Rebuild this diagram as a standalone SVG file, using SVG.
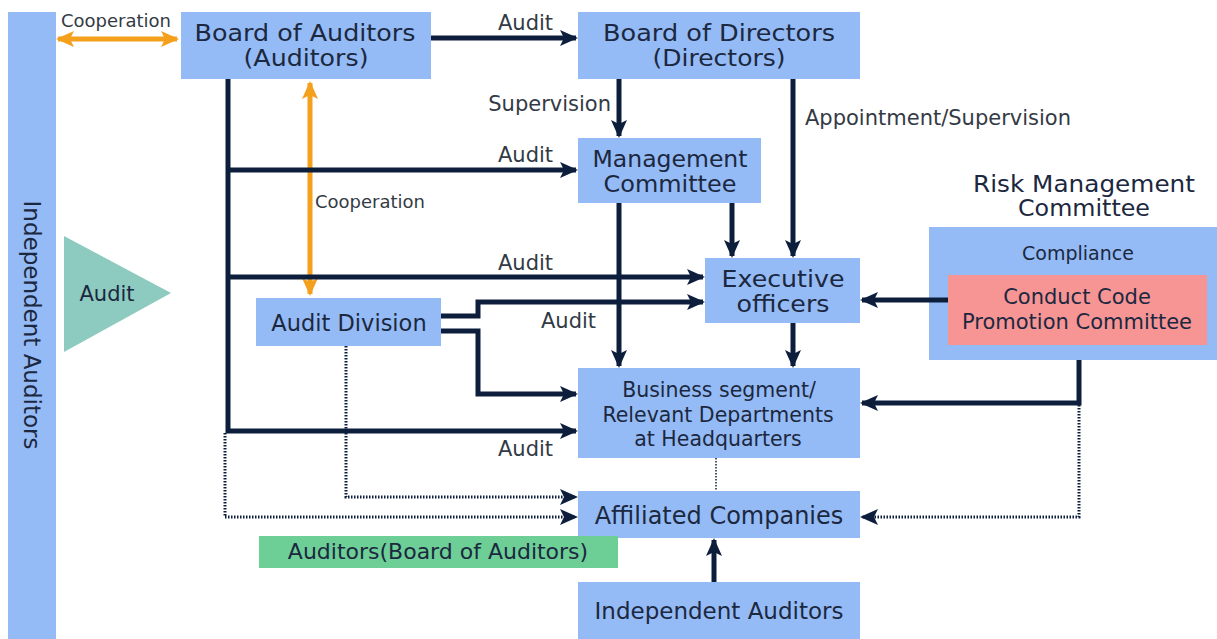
<svg xmlns="http://www.w3.org/2000/svg" width="1217" height="639" viewBox="0 0 1217 639">
<style>
.box{fill:#94bbf5}
.t{font-family:"DejaVu Sans",sans-serif;fill:#1c2840;text-anchor:middle}
.lbl{font-family:"DejaVu Sans",sans-serif;fill:#333a45}
.ln{fill:none;stroke:#0d1e3d;stroke-width:5}
.dot{fill:none;stroke:#0d1e3d;stroke-width:3;stroke-dasharray:1.5 1.5}
.or{fill:none;stroke:#f4a01d;stroke-width:5}
</style>
<defs>
<marker id="ah" markerUnits="userSpaceOnUse" markerWidth="18" markerHeight="18" viewBox="0 0 18 18" refX="16" refY="9" orient="auto">
<path d="M0,1 L18,9 L0,17 L4,9 Z" fill="#0d1e3d"/>
</marker>
<marker id="oh" markerUnits="userSpaceOnUse" markerWidth="18" markerHeight="18" viewBox="0 0 18 18" refX="16" refY="9" orient="auto-start-reverse">
<path d="M0,1 L18,9 L0,17 L4,9 Z" fill="#f4a01d"/>
</marker>
</defs>
<rect width="1217" height="639" fill="#ffffff"/>

<g id="independent-auditors-bar">
<rect class="box" x="8" y="12" width="48" height="627"/>
<text class="t" font-size="23" transform="translate(24,325) rotate(90)">Independent Auditors</text>
</g>

<g id="audit-triangle">
<polygon points="64,236 64,352 171,293" fill="#8dcabf"/>
<text class="t" font-size="21" x="107" y="301">Audit</text>
</g>

<g id="board-of-auditors">
<rect class="box" x="181" y="12" width="250" height="67"/>
<text class="t" font-size="22.5" x="305" y="41" textLength="221" lengthAdjust="spacingAndGlyphs">Board of Auditors</text>
<text class="t" font-size="22.5" x="306" y="66" textLength="125" lengthAdjust="spacingAndGlyphs">(Auditors)</text>
</g>

<g id="board-of-directors">
<rect class="box" x="578" y="12" width="282" height="67"/>
<text class="t" font-size="22.5" x="719" y="41" textLength="232" lengthAdjust="spacingAndGlyphs">Board of Directors</text>
<text class="t" font-size="22.5" x="719" y="66" textLength="133" lengthAdjust="spacingAndGlyphs">(Directors)</text>
</g>

<g id="management-committee">
<rect class="box" x="578" y="138" width="183" height="65"/>
<text class="t" font-size="22.5" x="670" y="167" textLength="155" lengthAdjust="spacingAndGlyphs">Management</text>
<text class="t" font-size="22.5" x="670" y="192" textLength="133" lengthAdjust="spacingAndGlyphs">Committee</text>
</g>

<g id="executive-officers">
<rect class="box" x="705" y="258" width="155" height="65"/>
<text class="t" font-size="22.5" x="783" y="287" textLength="123" lengthAdjust="spacingAndGlyphs">Executive</text>
<text class="t" font-size="22.5" x="783" y="312" textLength="93" lengthAdjust="spacingAndGlyphs">officers</text>
</g>

<g id="audit-division">
<rect class="box" x="256" y="298" width="185" height="48"/>
<text class="t" font-size="22.5" x="349" y="331">Audit Division</text>
</g>

<g id="business-segment">
<rect class="box" x="578" y="368" width="282" height="90"/>
<text class="t" font-size="20.5" x="719" y="397">Business segment/</text>
<text class="t" font-size="20.5" x="718" y="422">Relevant Departments</text>
<text class="t" font-size="20.5" x="718" y="446">at Headquarters</text>
</g>

<g id="affiliated-companies">
<rect class="box" x="578" y="491" width="282" height="47"/>
<text class="t" font-size="24" x="719" y="524">Affiliated Companies</text>
</g>

<g id="auditors-legend">
<rect x="259" y="536" width="359" height="32" fill="#6dcf96"/>
<text class="t" font-size="22" x="438" y="559">Auditors(Board of Auditors)</text>
</g>

<g id="independent-auditors-box">
<rect class="box" x="578" y="582" width="282" height="57"/>
<text class="t" font-size="23" x="719" y="619">Independent Auditors</text>
</g>

<g id="risk-management-committee">
<text class="t" font-size="22.5" x="1084" y="192" textLength="222" lengthAdjust="spacingAndGlyphs">Risk Management</text>
<text class="t" font-size="22.5" x="1084" y="216" textLength="132" lengthAdjust="spacingAndGlyphs">Committee</text>
<rect class="box" x="929" y="227" width="288" height="133"/>
<text class="t" font-size="19" x="1078" y="260" fill="#2a3d66">Compliance</text>
</g>

<g id="conduct-code-promotion-committee">
<rect x="948" y="275" width="259" height="70" fill="#f79595"/>
<text class="t" font-size="21" x="1077" y="304">Conduct Code</text>
<text class="t" font-size="21" x="1077" y="329">Promotion Committee</text>
</g>

<g id="connectors">
<path class="or" d="M58,39 H177" marker-start="url(#oh)" marker-end="url(#oh)"/>
<path class="or" d="M310,83 V294" marker-start="url(#oh)" marker-end="url(#oh)"/>

<path class="ln" d="M431,38 H576" marker-end="url(#ah)"/>
<path class="ln" d="M228,79 V433"/>
<path class="ln" d="M226,170 H576" marker-end="url(#ah)"/>
<path class="ln" d="M226,277 H703" marker-end="url(#ah)"/>
<path class="ln" d="M226,431 H576" marker-end="url(#ah)"/>
<path class="ln" d="M619,79 V136" marker-end="url(#ah)"/>
<path class="ln" d="M793,79 V256" marker-end="url(#ah)"/>
<path class="ln" d="M732,203 V256" marker-end="url(#ah)"/>
<path class="ln" d="M619,203 V366" marker-end="url(#ah)"/>
<path class="ln" d="M793,323 V366" marker-end="url(#ah)"/>
<path class="ln" d="M441,316 H478 V302 H703" marker-end="url(#ah)"/>
<path class="ln" d="M441,331 H478 V394 H576" marker-end="url(#ah)"/>
<path class="ln" d="M948,300 H862" marker-end="url(#ah)"/>
<path class="ln" d="M1079,360 V403 H862" marker-end="url(#ah)"/>
<path class="ln" d="M714,582 V540" marker-end="url(#ah)"/>

<path class="dot" d="M225,433 V517 H576" marker-end="url(#ah)"/>
<path class="dot" d="M346,346 V497 H576" marker-end="url(#ah)"/>
<path class="dot" d="M1079,405 V517 H862" marker-end="url(#ah)"/>
<path class="dot" d="M716,458 V491" style="stroke-width:1.5"/>

<text class="lbl" font-size="18" x="61" y="27">Cooperation</text>
<text class="lbl" font-size="18" x="315" y="208">Cooperation</text>
<text class="lbl" font-size="21" x="498" y="30">Audit</text>
<text class="lbl" font-size="21" x="498" y="162">Audit</text>
<text class="lbl" font-size="21" x="498" y="270">Audit</text>
<text class="lbl" font-size="21" x="541" y="328">Audit</text>
<text class="lbl" font-size="21" x="498" y="456">Audit</text>
<text class="lbl" font-size="21" x="611" y="111" text-anchor="end">Supervision</text>
<text class="lbl" font-size="21" x="805" y="125">Appointment/Supervision</text>
</g>
</svg>
